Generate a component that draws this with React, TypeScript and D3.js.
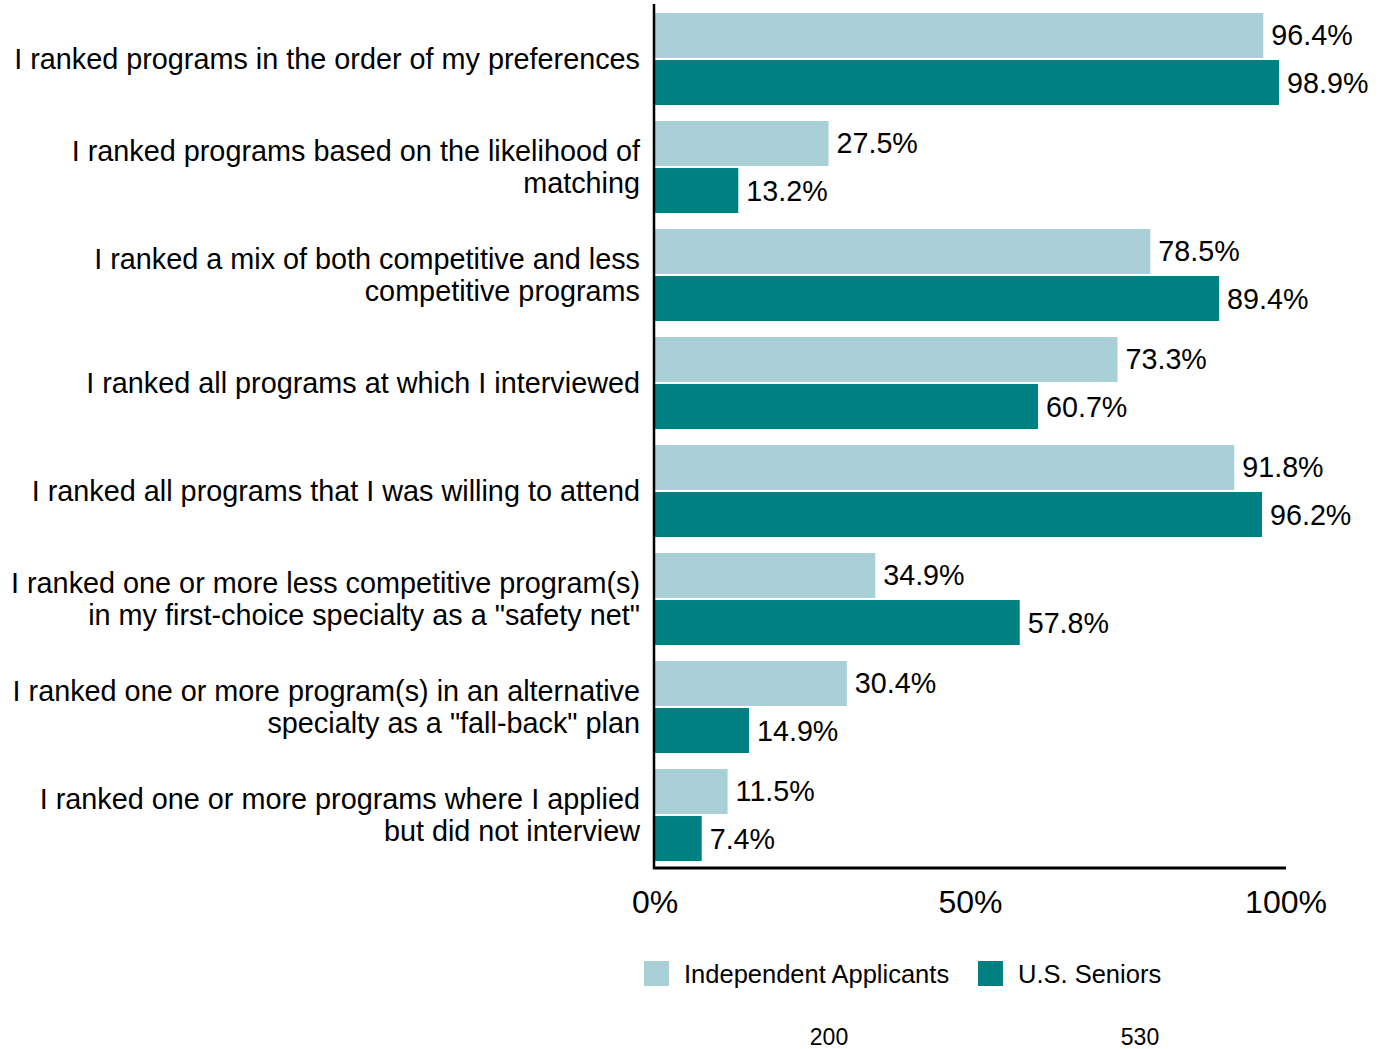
import React from 'react'
import { scaleLinear, scaleBand } from 'd3'

const categories = [
  ['I ranked programs in the order of my preferences'],
  ['I ranked programs based on the likelihood of', 'matching'],
  ['I ranked a mix of both competitive and less', 'competitive programs'],
  ['I ranked all programs at which I interviewed'],
  ['I ranked all programs that I was willing to attend'],
  ['I ranked one or more less competitive program(s)', 'in my first-choice specialty as a "safety net"'],
  ['I ranked one or more program(s) in an alternative', 'specialty as a "fall-back" plan'],
  ['I ranked one or more programs where I applied', 'but did not interview'],
]
const independent = [96.4, 27.5, 78.5, 73.3, 91.8, 34.9, 30.4, 11.5]
const seniors = [98.9, 13.2, 89.4, 60.7, 96.2, 57.8, 14.9, 7.4]
const series = ['Independent Applicants', 'U.S. Seniors']
const colors = ['#a8d0d6', '#008080']
const ticks = [0, 50, 100]
const counts = ['200', '530']

const font = '"Liberation Sans", Arial, sans-serif'

export default function App() {
  const width = 1382
  const height = 1049
  const x = scaleLinear().domain([0, 100]).range([655, 1286])
  const y = scaleBand<number>()
    .domain(categories.map((_, i) => i))
    .range([5, 869])
    .paddingInner(16 / 108)
    .paddingOuter(8 / 108)
  const sub = scaleBand<number>().domain([0, 1]).range([0, y.bandwidth()]).paddingInner(4 / 92)

  return (
    <svg width={width} height={height} style={{ position: 'absolute', left: 0, top: 0, fontFamily: font }}>
      {categories.map((lines, i) => {
        const cy = (y(i) as number) + y.bandwidth() / 2
        const lh = 32
        return (
          <g key={i}>
            {lines.map((l, j) => (
              <text key={j} x={640} y={cy + (j - (lines.length - 1) / 2) * lh} textAnchor="end"
                dominantBaseline="central" fontSize={28.8} fill="#000">{l}</text>
            ))}
            {[independent[i], seniors[i]].map((v, s) => {
              const by = (y(i) as number) + (sub(s) as number)
              return (
                <g key={s}>
                  <rect x={x(0)} y={by} width={x(v) - x(0)} height={sub.bandwidth()} fill={colors[s]} />
                  <text x={x(v) + 8} y={by + sub.bandwidth() / 2} dominantBaseline="central"
                    fontSize={28.7} fill="#000">{v.toFixed(1)}%</text>
                </g>
              )
            })}
          </g>
        )
      })}
      <line x1={654} x2={654} y1={4} y2={869} stroke="#000" strokeWidth={2.5} />
      <line x1={653} x2={x(100)} y1={868} y2={868} stroke="#000" strokeWidth={3} />
      {ticks.map(t => (
        <text key={t} x={x(t)} y={902} textAnchor="middle" dominantBaseline="central" fontSize={32} fill="#000">{t}%</text>
      ))}
      {series.map((s, i) => {
        const lx = [644, 978][i]
        return (
          <g key={s}>
            <rect x={lx} y={961} width={25} height={25} fill={colors[i]} />
            <text x={lx + 40} y={974} dominantBaseline="central" fontSize={25.5} fill="#000">{s}</text>
          </g>
        )
      })}
      {counts.map((c, i) => (
        <text key={c} x={[829, 1140][i]} y={1037} textAnchor="middle" dominantBaseline="central" fontSize={23} fill="#000">{c}</text>
      ))}
    </svg>
  )
}
